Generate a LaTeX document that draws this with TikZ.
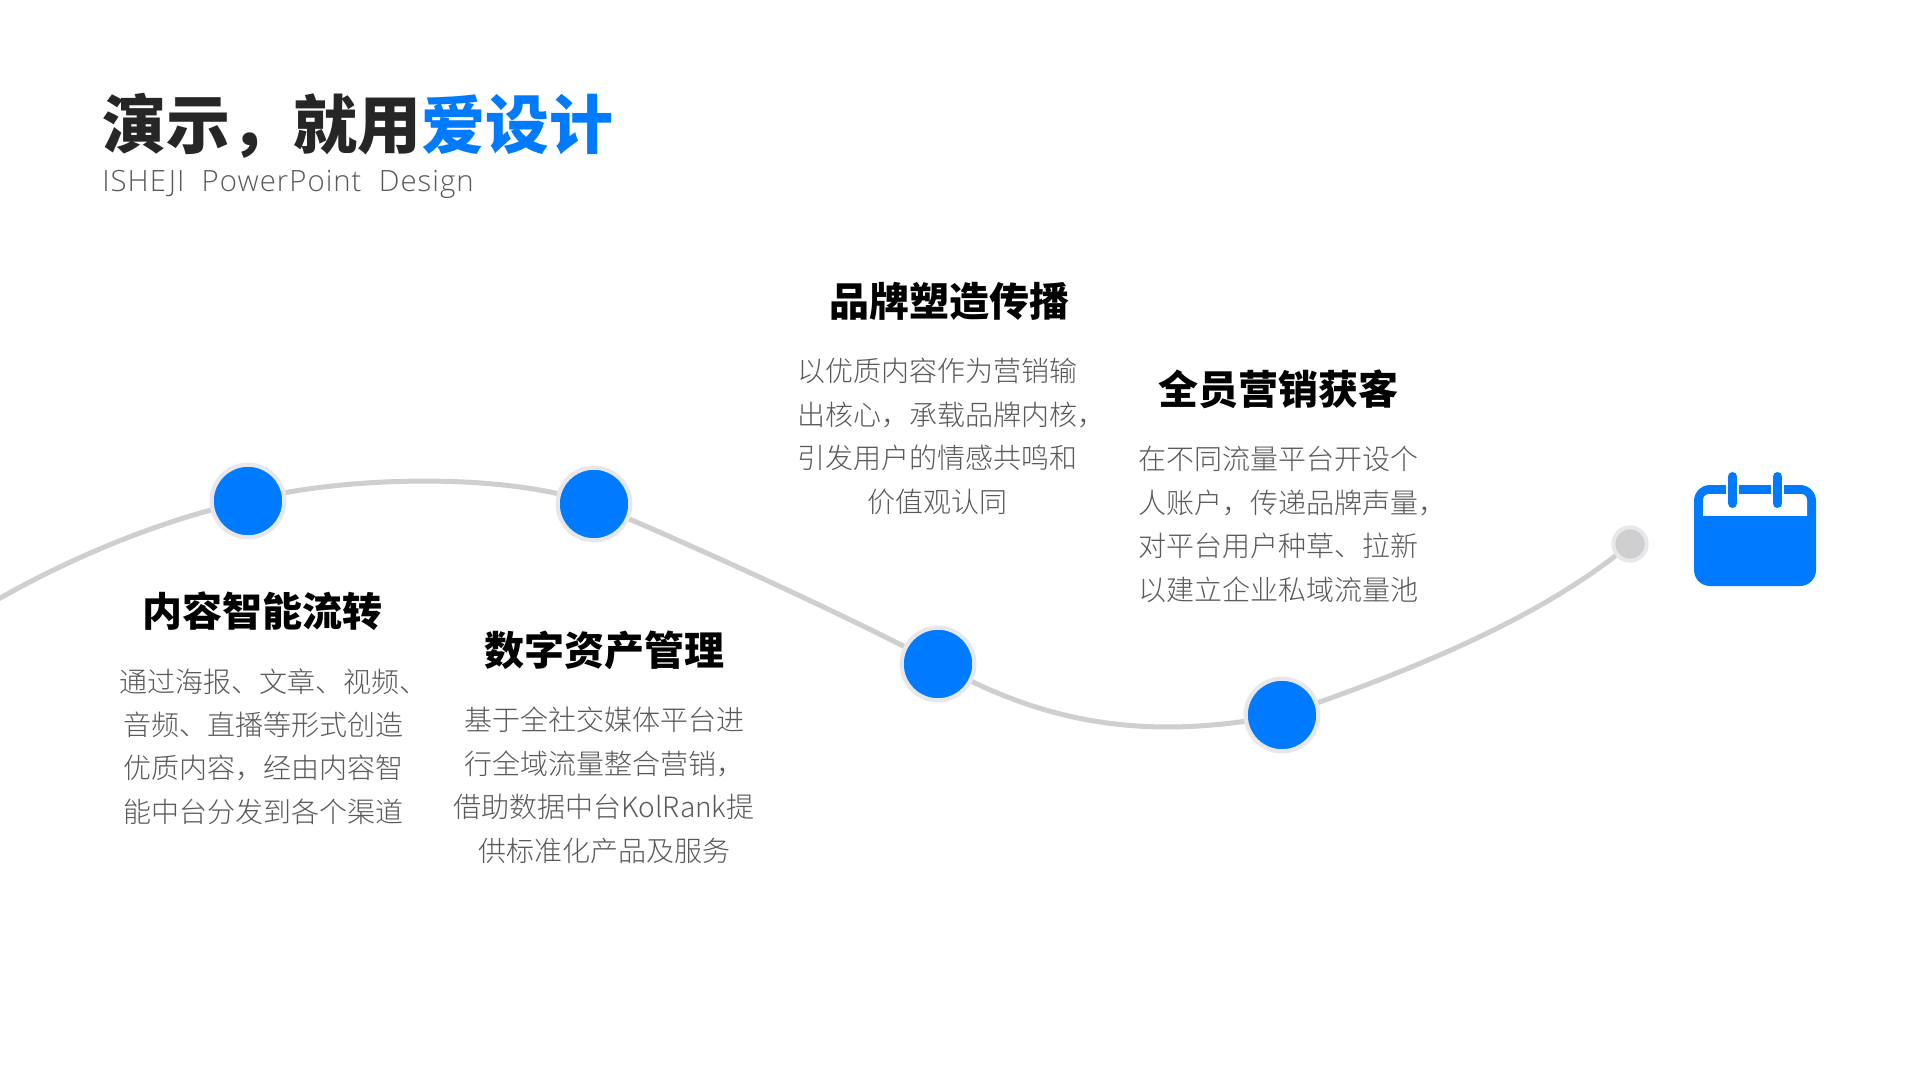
\documentclass[tikz,border=0pt]{standalone}
\usepackage{fontspec}
\usetikzlibrary{backgrounds}
\setmainfont{Noto Sans CJK SC}
\newfontfamily\lightcjk{Noto Sans CJK SC Light}
\newfontfamily\heavycjk{Noto Sans CJK SC Black}
\newfontfamily\latinlight{Open Sans Light}
\definecolor{brandblue}{HTML}{007AFF}
\definecolor{ringgray}{HTML}{E8E8EC}
\definecolor{linegray}{HTML}{CFCFCF}
\definecolor{bodygray}{HTML}{595959}
\definecolor{titledark}{HTML}{262626}
\tikzset{
  px/.style={x=0.75pt,y=-0.75pt},
  stopdot/.style={circle,draw=ringgray,fill=brandblue,line width=3.2pt,minimum size=54.5pt,inner sep=0pt},
  enddot/.style={circle,draw=ringgray,fill=linegray,line width=3pt,minimum size=25pt,inner sep=0pt},
  wave/.style={draw=linegray,line width=3.75pt},
  headtext/.style={font=\heavycjk\fontsize{30}{36}\selectfont,text=black,inner sep=0pt,anchor=center},
  bodytext/.style={font=\lightcjk\fontsize{21}{32.6}\selectfont,text=bodygray,align=center,inner sep=0pt,anchor=north},
}
\begin{document}
\begin{tikzpicture}[px]
\useasboundingbox (0,0) rectangle (1920,1080);
\coordinate (startpt) at (-5,601);
\node[stopdot] (s1) at (248,501) {};
\node[stopdot] (s2) at (594,504) {};
\node[stopdot] (s3) at (938,664) {};
\node[stopdot] (s4) at (1282,715) {};
\node[enddot] (s5) at (1630,544) {};
\begin{scope}[on background layer]
\fill[white] (0,0) rectangle (1920,1080);
\draw[wave] (startpt) .. controls (70,558) and (160,520) .. (s1.center);
\draw[wave] (s1.center) .. controls (330,478) and (500,470) .. (s2.center);
\draw[wave] (s2.center) .. controls (680,540) and (840,612) .. (s3.center);
\draw[wave] (s3.center) .. controls (1030,715) and (1130,745) .. (s4.center);
\draw[wave] (s4.center) .. controls (1400,675) and (1540,620) .. (s5.center);
\end{scope}
% title
\node[anchor=base west,inner sep=0pt,font=\heavycjk\fontsize{47.9}{56}\selectfont,text=titledark] (title) at (102,149) {演示，就用\textcolor{brandblue}{爱设计}};
\node[anchor=base west,inner sep=0pt,font=\latinlight\fontsize{22}{28}\selectfont,text=bodygray] (subtitle) at (102,192) {\addfontfeature{LetterSpace=3.5}ISHEJI\ \ PowerPoint\ \ Design};
% headings
\node[headtext] (h1) at (262,611) {内容智能流转};
\node[headtext] (h2) at (604,650) {数字资产管理};
\node[headtext] (h3) at (949,301) {品牌塑造传播};
\node[headtext] (h4) at (1278,389) {全员营销获客};
% bodies
\node[bodytext] (b1) at (259,668) {通过海报、文章、视频\rlap{、}\\\hspace*{6pt}音频、直播等形式创造\\\hspace*{6pt}优质内容，经由内容智\\\hspace*{6pt}能中台分发到各个渠道};
\node[bodytext] (b2) at (604,707) {基于全社交媒体平台进\\行全域流量整合营销\rlap{，}\hphantom{，}\\借助数据中台KolRank提\\供标准化产品及服务};
\node[bodytext] (b3) at (937,358) {以优质内容作为营销输\\出核心，承载品牌内核\rlap{，}\\引发用户的情感共鸣和\\价值观认同};
\node[bodytext] (b4) at (1278,446) {在不同流量平台开设个\\人账户，传递品牌声量\rlap{，}\\对平台用户种草、拉新\\以建立企业私域流量池};
% calendar icon
\fill[brandblue,rounded corners=12pt] (1694,485) rectangle (1816,586);
\fill[white,rounded corners=4.5pt] (1703,494) rectangle (1807,530);
\fill[brandblue] (1694,516) rectangle (1816,560);
\fill[white] (1726,478) rectangle (1739,496);
\fill[white] (1771,478) rectangle (1784,496);
\draw[brandblue,line width=6.75pt,line cap=round] (1732.5,476.5) -- (1732.5,503.5);
\draw[brandblue,line width=6.75pt,line cap=round] (1777.5,476.5) -- (1777.5,503.5);
\end{tikzpicture}
\end{document}
